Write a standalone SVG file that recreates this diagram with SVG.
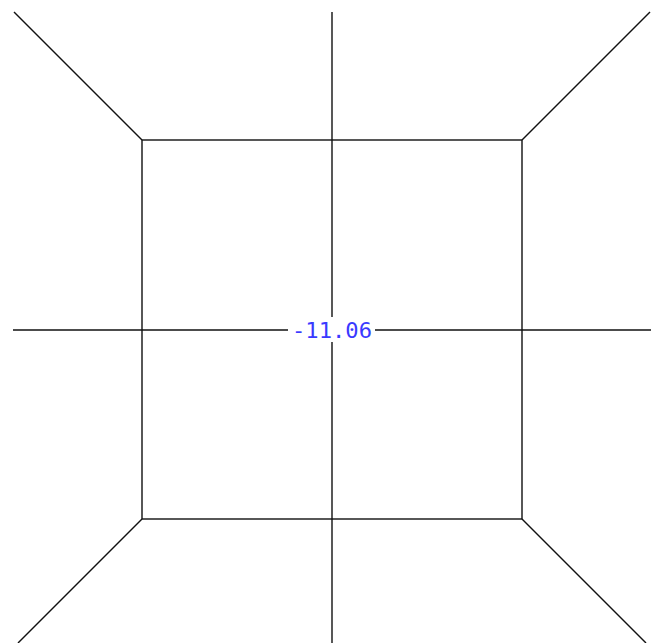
<svg xmlns="http://www.w3.org/2000/svg" width="657" height="643" viewBox="0 0 657 643">
<style>
.ln{stroke:#111;stroke-width:1.4;fill:none}
.lbl{font-family:"DejaVu Sans Mono","Liberation Mono",monospace;font-size:21px;fill:#3a3aff}
</style>
<rect width="657" height="643" fill="#fff"/>
<g id="connectors">
<line class="ln" x1="332" y1="12" x2="332" y2="643"/>
<line class="ln" x1="13" y1="330" x2="651" y2="330"/>
<line class="ln" x1="14" y1="12" x2="142" y2="140"/>
<line class="ln" x1="650" y1="12" x2="522" y2="140"/>
<line class="ln" x1="142" y1="519" x2="18" y2="643"/>
<line class="ln" x1="522" y1="519" x2="646" y2="643"/>
</g>
<g id="square">
<rect class="ln" x="142" y="140" width="380" height="379"/>
</g>
<g id="label">
<rect x="288" y="317" width="87" height="25" fill="#fff"/>
<text class="lbl" x="332" y="337.5" text-anchor="middle" textLength="80" lengthAdjust="spacingAndGlyphs">-11.06</text>
</g>
</svg>
